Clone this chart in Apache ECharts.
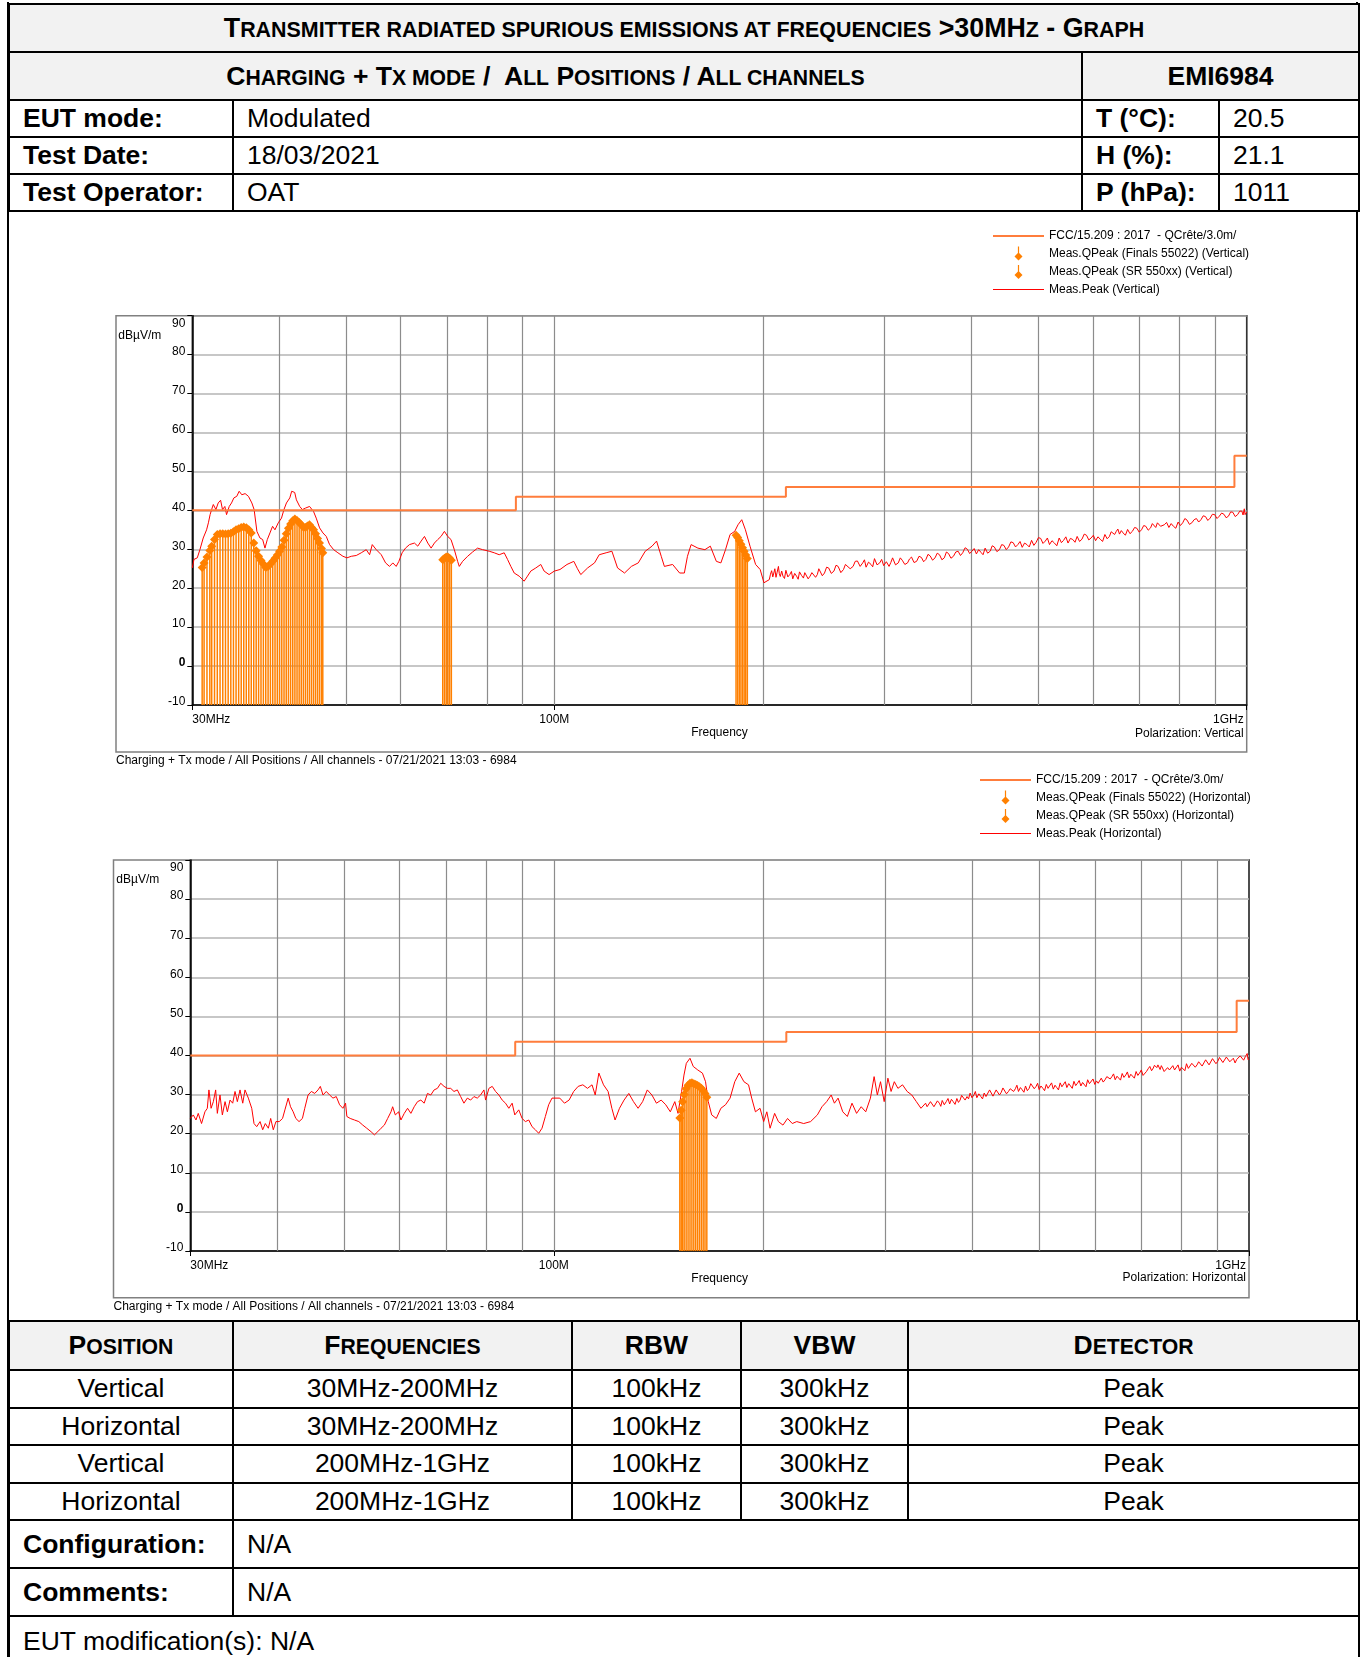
<!DOCTYPE html>
<html>
<head>
<meta charset="utf-8">
<title>Transmitter radiated spurious emissions at frequencies &gt;30MHz - Graph</title>
<script src="https://cdn.jsdelivr.net/npm/echarts@6/dist/echarts.min.js"></script>
<style>
  html, body { margin: 0; padding: 0; background: #fff; }
  body {
    width: 1362px; height: 1657px; position: relative; overflow: hidden;
    font-family: "Liberation Sans", Arial, sans-serif; color: #000;
  }
  .frame {
    position: absolute; left: 7px; top: 2px; width: 1347px; height: 1700px;
    border-left: 2px solid #000; border-right: 2px solid #000;
  }
  table {
    position: absolute; left: 8px; width: 1350px;
    border-collapse: collapse; table-layout: fixed; font-size: 26.5px;
    background: #fff;
  }
  td { border: 2px solid #000; padding: 0 0 0 13px; white-space: nowrap; overflow: hidden; vertical-align: middle; }
  td.c { text-align: center; padding: 0; }
  td.b { font-weight: bold; }
  td.hd { background: #f2f2f2; }
  td.tt { font-size: 26.8px; }
  .sc { font-size: 0.8em; text-transform: uppercase; }
  #head { top: 3px; }
  #foot { top: 1320px; }
  #chart { position: absolute; left: 0; top: 211px; width: 1362px; height: 1109px; }
</style>
</head>
<body>
<div class="frame"></div>

<table id="head">
  <colgroup><col style="width:224px"><col style="width:849px"><col style="width:137px"><col style="width:140px"></colgroup>
  <tr style="height:48px"><td colspan="4" class="hd c b tt">T<span class="sc">ransmitter radiated spurious emissions at frequencies</span> &gt;30MH<span class="sc">z</span> - G<span class="sc">raph</span></td></tr>
  <tr style="height:48px"><td colspan="2" class="hd c b">C<span class="sc">harging</span> + T<span class="sc">x mode</span> /&nbsp; A<span class="sc">ll</span> P<span class="sc">ositions</span> / A<span class="sc">ll channels</span></td><td colspan="2" class="hd c b">EMI6984</td></tr>
  <tr style="height:37px"><td class="b">EUT mode:</td><td>Modulated</td><td class="b">T (°C):</td><td>20.5</td></tr>
  <tr style="height:37px"><td class="b">Test Date:</td><td>18/03/2021</td><td class="b">H (%):</td><td>21.1</td></tr>
  <tr style="height:37px"><td class="b">Test Operator:</td><td>OAT</td><td class="b">P (hPa):</td><td>1011</td></tr>
</table>

<div id="chart"></div>

<table id="foot">
  <colgroup><col style="width:224px"><col style="width:339px"><col style="width:169px"><col style="width:167px"><col style="width:451px"></colgroup>
  <tr style="height:49px"><td class="hd c b">P<span class="sc">osition</span></td><td class="hd c b">F<span class="sc">requencies</span></td><td class="hd c b">RBW</td><td class="hd c b">VBW</td><td class="hd c b">D<span class="sc">etector</span></td></tr>
  <tr style="height:37.5px"><td class="c">Vertical</td><td class="c">30MHz-200MHz</td><td class="c">100kHz</td><td class="c">300kHz</td><td class="c">Peak</td></tr>
  <tr style="height:37.5px"><td class="c">Horizontal</td><td class="c">30MHz-200MHz</td><td class="c">100kHz</td><td class="c">300kHz</td><td class="c">Peak</td></tr>
  <tr style="height:37.5px"><td class="c">Vertical</td><td class="c">200MHz-1GHz</td><td class="c">100kHz</td><td class="c">300kHz</td><td class="c">Peak</td></tr>
  <tr style="height:37.5px"><td class="c">Horizontal</td><td class="c">200MHz-1GHz</td><td class="c">100kHz</td><td class="c">300kHz</td><td class="c">Peak</td></tr>
  <tr style="height:48px"><td class="b">Configuration:</td><td colspan="4">N/A</td></tr>
  <tr style="height:48px"><td class="b">Comments:</td><td colspan="4">N/A</td></tr>
  <tr style="height:50px"><td colspan="5">EUT modification(s): N/A</td></tr>
</table>

<script>
// FCC 15.209 limit, [MHz, dBuV/m]
const limitFcc = [[30, 40], [88, 40], [88, 43.5], [216, 43.5], [216, 46], [960, 46], [960, 54], [1000, 54]];
// vertical grid lines of the log frequency axis
const freqGrid = [40, 50, 60, 70, 80, 90, 100, 200, 300, 400, 500, 600, 700, 800, 900];

// Vertical polarization, peak trace
const peakVertical = [
  [30.00,25.2],[30.17,27.4],[30.50,27.8],[30.77,29.9],[31.11,32.9],[31.46,35.0],[31.65,36.8],[31.83,38.9],[31.99,40.2],[32.17,41.5],
  [32.45,40.2],[32.70,41.9],[32.96,42.6],[33.17,40.2],[33.43,41.0],[33.62,38.9],[33.92,41.0],[34.18,41.9],[34.45,43.2],[34.78,43.6],
  [35.06,44.9],[35.37,44.0],[35.76,44.3],[36.16,43.6],[36.57,41.9],[36.85,40.2],[37.19,34.6],[37.57,32.9],[37.91,32.5],[38.20,30.3],
  [38.50,32.5],[38.84,34.2],[39.18,35.9],[39.49,35.0],[39.93,36.8],[40.36,38.0],[40.69,40.2],[41.03,41.9],[41.49,43.2],[41.75,44.9],
  [42.17,44.6],[42.41,42.7],[42.88,41.0],[43.26,40.2],[43.74,40.6],[44.31,41.0],[44.90,39.7],[45.30,38.0],[45.81,35.5],[46.32,34.2],
  [46.84,33.3],[47.36,31.2],[48.00,29.9],[48.69,29.1],[49.51,28.2],[50.17,27.8],[50.90,28.2],[51.75,28.4],[52.62,29.1],[53.50,29.9],
  [54.10,28.6],[54.58,31.2],[55.31,29.9],[56.24,28.6],[57.05,26.5],[57.81,25.6],[58.45,26.5],[59.10,25.6],[59.63,26.9],[60.28,29.1],
  [60.96,30.3],[61.77,31.2],[62.80,31.6],[63.50,30.8],[64.21,32.1],[64.93,33.3],[65.65,31.6],[66.38,30.3],[67.11,31.6],[67.86,32.5],
  [68.61,33.3],[69.38,34.6],[70.15,33.3],[70.92,32.5],[71.71,29.9],[72.50,26.9],[72.90,25.6],[73.71,26.9],[74.95,28.2],[76.20,29.3],
  [77.47,30.3],[78.77,29.9],[80.53,29.5],[81.88,29.1],[83.25,28.6],[84.65,29.1],[85.59,27.4],[86.54,25.6],[87.51,23.9],[88.97,23.1],
  [90.45,21.8],[91.46,23.1],[92.47,24.4],[94.02,25.2],[95.60,26.1],[96.66,24.4],[98.27,23.5],[100.0,24.4],[101.9,24.8],[104.3,26.1],
  [106.7,26.9],[108.0,25.0],[109.2,23.5],[111.7,25.2],[114.3,26.5],[116.1,28.6],[118.8,29.1],[121.1,29.5],[123.4,25.2],[126.3,23.9],
  [129.2,25.6],[132.2,26.5],[135.3,29.5],[138.4,30.8],[140.5,32.1],[142.7,28.2],[144.2,25.6],[148.2,26.1],[151.7,23.9],[154.1,23.9],
  [155.7,28.2],[157.6,31.2],[161.2,30.3],[165.0,29.9],[168.0,30.8],[171.4,26.9],[174.0,26.5],[176.7,29.9],[179.4,33.8],[182.2,34.6],
  [184.2,36.3],[186.5,37.6],[188.8,35.0],[191.7,30.8],[195.3,26.1],[198.3,24.8],[200.8,21.4],
  [204.4,22.2],[205.2,23.6],[206.0,24.5],[206.8,22.9],[207.5,23.9],[208.2,25.0],[209.0,22.8],[209.8,24.1],[210.7,25.6],[211.3,23.8],
  [212.0,23.0],[213.0,24.4],[213.9,23.1],[215.0,22.5],[216.0,24.6],[217.4,22.9],[218.8,23.5],[220.0,24.3],[221.0,22.4],[222.4,23.8],
  [223.8,23.1],[225.0,22.3],[226.0,24.2],[227.5,23.3],[229.0,22.6],[230.0,24.0],[231.0,23.8],[232.6,22.4],[234.1,23.1],[235.5,24.0],
  [237.0,24.5],[238.4,22.8],[239.8,23.5],[241.0,25.0],[242.0,24.8],[243.8,23.2],[245.6,23.9],[247.3,25.4],[249.0,25.2],[251.2,23.8],
  [253.4,24.4],[255.2,25.9],[257.0,25.6],[259.3,24.0],[261.6,24.8],[263.3,26.1],[265.0,26.4],[267.5,25.0],[270.1,25.6],[272.0,26.9],
  [274.0,27.0],[276.5,25.6],[278.9,26.5],[280.5,27.3],[282.0,25.4],[284.3,26.7],[286.7,26.1],[288.3,25.5],[290.0,27.6],[292.5,26.0],
  [295.1,26.5],[297.0,27.4],[299.0,25.8],[301.7,26.8],[304.4,25.6],[306.2,26.6],[308.0,27.8],[311.0,26.0],[313.9,26.5],[316.0,27.8],
  [318.0,27.2],[320.8,26.1],[323.7,26.5],[325.8,27.5],[328.0,28.0],[330.8,26.6],[333.6,26.9],[336.3,28.2],[339.0,27.9],[341.5,26.8],
  [344.1,27.4],[346.5,28.7],[349.0,28.3],[351.8,27.2],[354.7,27.8],[357.3,29.0],[360.0,28.6],[362.9,27.3],[365.8,27.8],[368.4,29.3],
  [371.0,28.9],[374.0,27.7],[377.1,28.2],[380.0,29.3],[383.0,29.5],[386.0,28.4],[388.9,29.1],[392.0,30.4],[395.0,30.0],[398.0,28.9],
  [400.9,29.5],[404.0,30.2],[407.0,28.8],[410.1,29.9],[413.3,29.2],[416.1,28.6],[419.0,30.3],[422.5,29.0],[426.1,29.5],[429.0,30.9],
  [432.0,30.6],[435.7,29.4],[439.4,29.9],[442.7,31.2],[446.0,31.0],[449.5,29.9],[453.0,30.6],[456.5,31.9],[460.0,31.7],[463.6,30.6],
  [467.2,31.2],[470.6,32.0],[474.0,30.5],[477.7,31.6],[481.5,31.2],[485.2,30.6],[489.0,32.3],[492.7,31.0],[496.5,31.8],[500.2,33.0],
  [504.0,32.8],[507.9,31.5],[511.8,32.1],[515.4,32.9],[519.0,31.2],[523.3,32.2],[527.6,31.6],[531.8,30.9],[536.0,32.9],[540.0,31.7],
  [543.9,32.3],[548.0,33.2],[552.0,31.6],[556.4,32.8],[560.9,32.5],[565.0,31.8],[569.0,33.3],[573.6,32.0],[578.2,32.6],[582.6,33.9],
  [587.0,33.6],[591.5,32.4],[596.0,32.9],[600.5,33.6],[605.0,32.2],[609.7,33.2],[614.5,32.6],[619.2,32.0],[624.0,33.8],[628.7,32.7],
  [633.5,33.3],[637.2,34.5],[641.0,34.9],[644.5,33.8],[648.1,34.6],[651.5,35.2],[655.0,33.9],[659.0,34.8],[663.0,34.2],[668.0,33.6],
  [673.0,35.1],[678.3,34.0],[683.7,34.6],[688.8,35.6],[694.0,35.4],[699.4,34.4],[704.8,35.0],[710.0,36.1],[715.0,35.9],[720.7,34.9],
  [726.4,35.5],[730.7,36.6],[735.0,36.2],[739.0,35.6],[743.1,36.8],[747.0,37.3],[751.0,35.9],[755.6,35.4],[760.3,36.3],[766.1,36.9],
  [772.0,35.6],[777.9,36.6],[783.8,35.9],[789.9,35.4],[796.0,37.0],[802.1,36.1],[808.3,36.8],[814.1,37.9],[820.0,37.5],[826.6,36.4],
  [833.2,36.8],[839.6,37.6],[846.0,37.9],[852.4,37.0],[858.9,37.6],[865.4,38.6],[872.0,38.4],[878.7,37.4],[885.5,38.0],[892.2,39.0],
  [899.0,38.9],[906.0,37.9],[912.9,38.5],[920.0,39.3],[927.0,39.0],[934.0,38.1],[941.1,38.5],[948.0,39.6],[955.0,39.5],[962.6,38.4],
  [970.3,38.9],[977.1,39.8],[984.0,39.8],[988.0,38.8],[992.0,40.4],[994.6,38.9],[997.3,39.3],[1000,39.6]
];
// Vertical polarization, quasi-peak finals
const qpeakVerticalSR = [
  [31.0,25.3],[31.2,26.5],[31.5,28.0],[31.8,29.7],[32.0,30.8],[32.3,32.5],[32.6,33.8],[32.9,34.0],[33.2,34.0],[33.5,33.9],
  [33.8,34.0],[34.1,34.1],[34.4,34.5],[34.7,35.0],[35.0,35.3],[35.3,35.6],[35.6,35.7],[35.9,35.5],[36.2,35.0],[36.5,34.2],
  [36.8,31.6],[37.1,29.6],[37.4,28.2],[37.7,27.1],[38.0,26.2],[38.3,25.3],[38.6,25.6],[38.9,26.2],[39.2,26.9],[39.5,27.7],
  [39.8,28.5],[40.1,29.5],[40.4,30.6],[40.7,32.3],[41.0,34.0],[41.3,35.4],[41.6,36.5],[41.9,37.3],[42.2,37.8],[42.5,37.4],
  [42.8,36.9],[43.1,36.3],[43.4,35.7],[43.7,35.6],[44.0,36.0],[44.3,36.3],[44.6,35.6],[44.9,35.0],[45.2,34.0],[45.5,32.8],
  [45.8,31.6],[46.1,30.2],[46.3,29.1]
];
const qpeakVerticalFinals = [
  [69.0,27.3],[69.4,27.7],[69.8,28.0],[70.2,28.0],[70.6,27.7],[71.0,27.2],
  [183.0,33.6],[184.0,33.0],[185.0,32.2],[186.0,31.3],[187.0,30.4],[188.0,29.5],[189.0,28.5],[190.0,27.6]
];

// Horizontal polarization, peak trace
const peakHorizontal = [
  [30.00,23.9],[30.30,24.8],[30.57,23.5],[30.80,25.2],[31.14,22.6],[31.49,25.6],[31.74,26.5],[31.91,31.2],[32.14,26.5],[32.38,28.2],
  [32.63,31.2],[32.81,25.2],[33.10,29.9],[33.36,24.8],[33.66,28.2],[33.92,25.6],[34.22,28.6],[34.52,27.8],[34.79,30.8],[35.06,28.2],
  [35.37,31.2],[35.69,27.8],[35.96,31.2],[36.36,29.1],[36.77,26.5],[37.05,22.6],[37.38,21.8],[37.80,23.1],[38.13,21.0],[38.46,22.6],
  [38.85,21.4],[39.15,23.9],[39.49,21.0],[39.84,23.1],[40.28,23.1],[40.72,23.9],[41.04,26.1],[41.49,29.1],[41.81,26.9],[42.18,25.6],
  [42.55,23.9],[43.01,23.1],[43.49,23.9],[43.83,26.5],[44.31,29.9],[44.80,30.8],[45.30,30.3],[45.80,31.2],[46.15,32.1],[46.56,29.9],
  [47.07,30.8],[47.59,29.9],[48.12,29.1],[48.65,29.5],[49.19,27.4],[49.73,26.5],[50.17,27.8],[50.39,24.4],[50.95,23.9],[51.68,23.5],
  [52.42,23.1],[53.12,22.2],[53.82,21.4],[54.60,20.5],[55.20,19.7],[55.81,20.5],[56.43,21.4],[57.05,22.2],[57.68,23.9],[58.32,25.6],
  [58.64,26.9],[59.16,24.8],[59.81,25.6],[60.27,23.5],[60.94,25.2],[61.61,26.5],[62.29,25.2],[62.98,26.9],[63.68,28.2],[64.38,28.6],
  [65.09,27.8],[65.81,30.3],[66.53,29.9],[67.27,31.2],[68.01,31.6],[68.76,32.9],[69.52,32.1],[70.29,31.6],[71.07,31.6],[71.85,30.8],
  [72.65,31.2],[73.45,29.5],[74.26,27.8],[75.09,29.1],[75.92,28.6],[76.76,29.5],[77.61,29.1],[78.47,29.9],[79.34,31.2],[79.78,28.6],
  [80.66,31.6],[81.55,32.1],[82.46,30.8],[83.37,29.9],[84.29,28.6],[85.22,27.8],[86.16,26.5],[87.11,27.8],[87.88,24.8],[89.04,26.1],
  [90.03,23.9],[91.03,23.1],[92.04,23.5],[93.05,21.8],[94.08,21.0],[95.12,20.1],[96.17,21.4],[97.24,24.4],[98.31,27.4],[99.40,29.1],
  [100.0,28.6],[102.0,29.1],[103.6,27.8],[105.2,28.6],[106.8,30.8],[108.4,32.1],[110.1,32.5],[111.8,31.6],[113.5,32.5],[114.7,29.9],
  [116.1,35.5],[117.9,32.5],[119.7,30.8],[121.2,26.5],[122.5,23.5],[124.3,26.5],[126.2,28.6],[128.2,30.3],[130.2,28.2],[132.2,26.5],
  [134.2,28.2],[136.3,31.2],[138.4,29.9],[140.5,27.8],[142.7,28.6],[144.9,27.4],[147.1,25.6],[149.3,28.2],[150.9,25.2],[152.7,30.8],
  [153.9,35.0],[155.1,38.0],[157.0,39.3],[158.7,37.2],[161.1,36.3],[163.6,35.5],[165.3,33.3],[166.8,28.2],[168.7,24.8],[171.3,23.9],
  [173.9,26.5],[176.6,27.4],[179.3,29.1],[182.1,33.3],[184.8,35.5],[187.7,33.3],[190.6,32.5],[192.6,29.1],[195.0,25.6],[198.0,26.5],
  [200.4,23.1],[202.5,25.6],[204.7,21.4],[207.8,25.2],[210.4,23.1],[213.6,22.2],[216.9,23.9],[220.3,22.6],[223.6,23.1],[228.8,22.6],
  [234.1,23.1],[239.4,24.8],[243.1,26.9],[246.9,28.2],[250.6,29.9],[253.3,27.8],[256.4,29.1],[260.4,25.6],[264.4,24.4],[268.5,27.8],
  [272.6,25.2],[276.8,26.9],[281.0,25.6],[285.4,29.1],[288.9,34.6],[292.0,29.9],[295.1,33.3],[298.7,28.2],[302.4,34.2],[305.6,30.8],
  [308.9,33.3],[312.6,31.6],[317.4,32.5],[322.3,30.8],[327.3,29.9],[332.3,28.2],[337.4,26.5],
  [342.6,27.8],[344.3,26.9],[346.0,27.0],[348.2,28.2],[350.5,27.8],[352.2,26.9],[354.0,27.2],[356.3,28.4],[358.6,27.8],[360.3,27.0],
  [362.0,28.5],[364.5,27.4],[366.9,28.2],[369.0,29.0],[371.0,27.6],[373.2,28.8],[375.4,28.2],[377.7,27.5],[380.0,29.0],[382.0,28.0],
  [384.1,28.6],[386.0,29.8],[388.0,29.6],[390.5,28.6],[393.0,29.5],[395.0,28.9],[397.0,30.4],[399.5,29.2],[402.1,29.9],[404.0,30.8],
  [406.0,29.2],[408.7,30.2],[411.4,29.5],[413.7,28.9],[416.0,30.4],[418.5,29.5],[420.9,29.9],[423.5,31.2],[426.0,30.9],[428.3,29.6],
  [430.6,30.1],[432.8,31.2],[435.0,31.0],[437.6,29.9],[440.2,30.6],[442.6,31.7],[445.0,31.4],[447.9,30.2],[450.8,30.8],[453.4,31.5],
  [456.0,31.9],[458.6,30.8],[461.2,31.5],[463.6,32.4],[466.0,30.8],[469.0,31.8],[471.9,31.2],[474.5,30.6],[477.0,32.2],[479.9,31.0],
  [482.8,31.6],[485.4,32.8],[488.0,32.6],[491.0,31.5],[494.0,32.1],[496.5,32.9],[499.0,31.3],[502.1,32.2],[505.3,31.6],[508.1,31.0],
  [511.0,32.6],[514.0,31.6],[517.1,32.1],[520.0,33.0],[523.0,31.4],[526.0,32.4],[529.0,31.8],[532.0,31.2],[535.0,33.0],[538.1,32.0],
  [541.3,32.5],[544.1,33.3],[547.0,31.8],[550.4,32.8],[553.8,32.3],[556.9,31.6],[560.0,33.4],[563.3,32.3],[566.6,32.9],[569.8,33.6],
  [573.0,32.2],[576.3,33.1],[579.7,32.6],[582.8,32.0],[586.0,33.8],[589.5,32.8],[593.0,33.3],[596.5,34.0],[600.0,32.6],[603.4,33.5],
  [606.8,32.9],[609.9,32.4],[613.0,34.2],[617.0,33.2],[620.8,33.8],[624.4,34.6],[628.0,35.1],[631.5,34.0],[635.1,34.6],[638.5,35.3],
  [642.0,33.8],[645.9,34.7],[649.8,34.2],[653.4,33.7],[657.0,35.4],[660.9,34.4],[664.8,35.0],[668.4,35.8],[672.0,34.3],[676.1,35.2],
  [680.2,34.9],[684.1,34.2],[688.0,35.9],[692.0,34.9],[695.9,35.5],[700.0,36.3],[704.0,34.9],[708.0,35.4],[712.0,35.9],[716.0,36.6],
  [720.0,37.2],[724.2,36.1],[728.4,36.8],[731.2,37.5],[734.0,38.0],[736.8,36.9],[739.6,37.6],[742.3,37.1],[745.0,36.4],[748.0,37.4],
  [751.0,36.8],[755.0,35.9],[759.0,35.8],[763.7,36.9],[768.4,36.3],[772.7,35.8],[777.0,37.4],[781.5,36.3],[786.1,36.8],[790.5,37.6],
  [795.0,36.0],[799.6,37.0],[804.3,36.8],[808.6,36.1],[813.0,37.9],[818.0,36.7],[822.9,37.2],[827.4,38.0],[832.0,38.2],[837.0,37.0],
  [841.9,37.6],[846.4,38.4],[851.0,38.5],[856.2,37.3],[861.4,37.6],[866.2,38.9],[871.0,38.7],[876.1,37.6],[881.3,38.0],[886.1,39.2],
  [891.0,38.9],[896.3,37.9],[901.6,38.5],[906.8,39.5],[912.0,39.2],[917.2,38.2],[922.5,38.6],[927.7,39.6],[933.0,39.5],[938.4,38.4],
  [943.8,38.9],[949.4,39.3],[955.0,38.1],[960.2,39.0],[965.5,38.6],[971.2,39.9],[977.0,39.5],[982.4,38.8],[987.9,39.7],[994.0,40.5],
  [997.0,38.9],[1000,39.1]
];
// Horizontal polarization, quasi-peak finals
const qpeakHorizontalFinals = [
  [151.8,24.0],[152.5,26.0],[153.2,28.2],[154.0,30.0],[155.0,31.5],[156.0,32.4],[157.0,32.9],[158.0,33.0],
  [159.0,32.8],[160.0,32.6],[161.0,32.3],[162.0,32.0],[163.0,31.6],[164.0,31.0],[165.0,30.3],[166.0,29.3]
];
const qpeakHorizontalSR = [];

const FONT = '"Liberation Sans", Arial, sans-serif';
const FS = 12;
const LIMIT_COLOR = '#ff7d3c';
const PEAK_COLOR = '#ff0000';
const QP_COLOR = '#ff8000';
const LIMIT_NAME = 'FCC/15.209 : 2017  - QCrête/3.0m/';
const ICON_LIMIT = 'path://M0,0H48V2H0Z';
const ICON_PEAK = 'path://M0,0H48V1H0Z';
const ICON_QP = 'path://M3.4,0H4.6V6.6L8,10L4,14L0,10L3.4,6.6Z';

// grid placement inside the chart div (div starts at page y=211)
const plots = [
  { pol: 'Vertical', left: 192.3, top: 104.7, width: 1054.4, height: 389.3,
    frame: [116, 104.7, 1130.7, 436.3], legend: [993, 19], caption: [116, 549.7], polY: 522.3,
    peak: peakVertical, finals: qpeakVerticalFinals, sr: qpeakVerticalSR },
  { pol: 'Horizontal', left: 190.3, top: 649, width: 1058.7, height: 391,
    frame: [113.5, 649, 1135.5, 437.7], legend: [980, 563], caption: [113.5, 1096], polY: 1066.3,
    peak: peakHorizontal, finals: qpeakHorizontalFinals, sr: qpeakHorizontalSR }
];

function xLabel(v) {
  if (Math.abs(v - 30) < 0.01) return '30MHz';
  if (Math.abs(v - 100) < 0.01) return '100M';
  if (Math.abs(v - 1000) < 0.01) return '{r|1GHz}';
  return '';
}

// quasi-peak marker: stem from the axis floor up to a diamond
function renderStem(params, api) {
  const x = api.value(0);
  const top = api.coord([x, api.value(1)]);
  const base = api.coord([x, -10]);
  const c = api.visual('color');
  const s = 4.5;
  return {
    type: 'group',
    children: [
      { type: 'line', shape: { x1: top[0], y1: base[1], x2: top[0], y2: top[1] }, style: { stroke: c, lineWidth: 1.5 } },
      { type: 'polygon', shape: { points: [[top[0], top[1] - s], [top[0] + s, top[1]], [top[0], top[1] + s], [top[0] - s, top[1]]] }, style: { fill: c } }
    ]
  };
}

const grids = [], xAxes = [], yAxes = [], series = [], legends = [], graphics = [];
const caption = 'Charging + Tx mode / All Positions / All channels - 07/21/2021 13:03 - 6984';

plots.forEach(function (p, i) {
  grids.push({
    left: p.left, top: p.top, width: p.width, height: p.height,
    show: true, borderColor: '#333', borderWidth: 1.5, backgroundColor: 'transparent',
    containLabel: false, outerBoundsMode: 'none'
  });
  xAxes.push({
    gridIndex: i, type: 'log', logBase: 10, min: 30, max: 1000,
    name: 'Frequency', nameLocation: 'middle', nameGap: 21,
    nameTextStyle: { fontSize: FS, color: '#000', fontFamily: FONT },
    axisLine: { show: true, onZero: false, lineStyle: { color: '#000', width: 1.5 } },
    axisTick: { show: true, length: 5, lineStyle: { color: '#000' } },
    axisLabel: { margin: 9, fontSize: FS, color: '#000', fontFamily: FONT,
      alignMinLabel: 'left', alignMaxLabel: 'right', formatter: xLabel,
      rich: { r: { fontSize: FS, color: '#000', fontFamily: FONT, padding: [0, 3, 0, 0] } } },
    splitLine: { show: false }, minorTick: { show: false }
  });
  yAxes.push({
    gridIndex: i, type: 'value', min: -10, max: 90, interval: 10,
    name: 'dBµV/m', nameLocation: 'end', nameGap: -20,
    nameTextStyle: { align: 'right', verticalAlign: 'middle', padding: [0, 31, 0, 0], fontSize: FS, color: '#000', fontFamily: FONT },
    axisLine: { show: true, onZero: false, lineStyle: { color: '#000', width: 1.5 } },
    axisTick: { show: true, length: 5, lineStyle: { color: '#000' } },
    axisLabel: {
      margin: 7, color: '#000', fontSize: FS, fontFamily: FONT,
      formatter: function (v) { return v === 90 ? '{t|90}' : v === 0 ? '{z|0}' : '{n|' + v + '}'; },
      rich: {
        t: { fontSize: FS, color: '#000', fontFamily: FONT, padding: [15, 0, 0, 0] },
        z: { fontSize: FS, color: '#000', fontFamily: FONT, fontWeight: 'bold', padding: [0, 0, 6, 0] },
        n: { fontSize: FS, color: '#000', fontFamily: FONT, padding: [0, 0, 6, 0] }
      }
    },
    splitLine: { show: true, lineStyle: { color: '#b4b4b4', width: 1.6 } }
  });

  const qpFinals = 'Meas.QPeak (Finals 55022) (' + p.pol + ')';
  const qpSR = 'Meas.QPeak (SR 550xx) (' + p.pol + ')';
  const peakName = 'Meas.Peak (' + p.pol + ')';

  series.push({
    name: LIMIT_NAME, type: 'line', xAxisIndex: i, yAxisIndex: i, z: 3,
    data: limitFcc, symbol: 'none', color: LIMIT_COLOR,
    lineStyle: { color: LIMIT_COLOR, width: 2 },
    markLine: {
      silent: true, symbol: 'none', z: 1, animation: false,
      label: { show: false }, emphasis: { disabled: true },
      lineStyle: { color: '#8c8c8c', width: 1.2, type: 'solid' },
      data: freqGrid.map(function (f) { return { xAxis: f }; })
    }
  });
  series.push({
    name: peakName, type: 'line', xAxisIndex: i, yAxisIndex: i, z: 2,
    data: p.peak, symbol: 'none', color: PEAK_COLOR,
    lineStyle: { color: PEAK_COLOR, width: 1 }
  });
  series.push({
    name: qpFinals, type: 'custom', xAxisIndex: i, yAxisIndex: i, z: 4,
    coordinateSystem: 'cartesian2d', renderItem: renderStem,
    encode: { x: 0, y: 1 }, itemStyle: { color: QP_COLOR }, data: p.finals
  });
  series.push({
    name: qpSR, type: 'custom', xAxisIndex: i, yAxisIndex: i, z: 4,
    coordinateSystem: 'cartesian2d', renderItem: renderStem,
    encode: { x: 0, y: 1 }, itemStyle: { color: QP_COLOR }, data: p.sr
  });

  legends.push({
    orient: 'vertical', left: p.legend[0], top: p.legend[1], padding: 0,
    itemWidth: 51, itemHeight: 14, itemGap: 4.5, symbolKeepAspect: true, selectedMode: false,
    itemStyle: { borderWidth: 0 },
    textStyle: { fontSize: FS, color: '#000', fontFamily: FONT },
    data: [
      { name: LIMIT_NAME, icon: ICON_LIMIT },
      { name: qpFinals, icon: ICON_QP },
      { name: qpSR, icon: ICON_QP },
      { name: peakName, icon: ICON_PEAK }
    ]
  });

  graphics.push({
    type: 'rect', silent: true, z: -1,
    shape: { x: p.frame[0], y: p.frame[1], width: p.frame[2], height: p.frame[3] },
    style: { fill: 'none', stroke: '#808080', lineWidth: 1.5 }
  });
  graphics.push({
    type: 'text', silent: true, x: p.caption[0], y: p.caption[1],
    style: { text: caption, fill: '#000', font: FS + 'px ' + FONT, align: 'left', verticalAlign: 'middle', textAlign: 'left', textVerticalAlign: 'middle' }
  });
  graphics.push({
    type: 'text', silent: true, x: p.left + p.width - 3, y: p.polY,
    style: { text: 'Polarization: ' + p.pol, fill: '#000', font: FS + 'px ' + FONT, align: 'right', verticalAlign: 'middle', textAlign: 'right', textVerticalAlign: 'middle' }
  });
});

const chart = echarts.init(document.getElementById('chart'));
chart.setOption({
  animation: false,
  textStyle: { fontFamily: FONT },
  grid: grids,
  xAxis: xAxes,
  yAxis: yAxes,
  legend: legends,
  series: series,
  graphic: graphics
});
</script>
</body>
</html>
